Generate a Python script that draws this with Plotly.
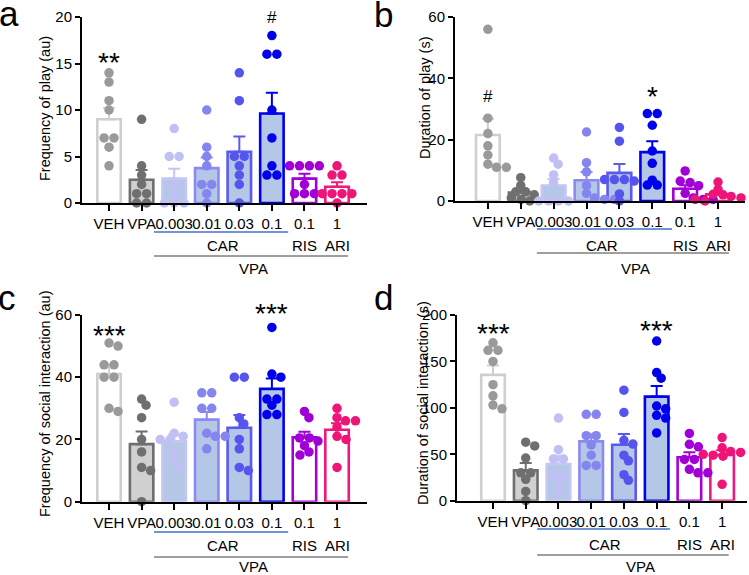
import numpy as np
import plotly.graph_objects as go

# ---------------- data ----------------
groups = ["VEH", "VPA", "0.003", "0.01", "0.03", "0.1", "0.1", "1"]

play_freq = [
    [14, 13, 11, 10, 7, 7, 6, 4],
    [9, 4, 3, 2, 1, 1, 0, 0],
    [8, 5, 5, 2, 1, 0, 0, 0],
    [10, 6, 5, 4, 2, 2, 1, 0],
    [14, 11, 5, 5, 4, 3, 2, 0],
    [18, 16, 16, 10, 7, 4, 3, 3],
    [4, 4, 4, 4, 2, 1, 1, 1],
    [4, 3, 3, 1, 1, 1, 1, 0],
]
play_dur = [
    [56, 27, 22, 18, 15, 12, 11, 11],
    [7.6, 5, 3, 3, 2, 1, 0.5, 0],
    [14, 12, 8.5, 6, 0, 0, 0, 0],
    [22.5, 12.5, 9.5, 5, 2.5, 1, 0.5, 0.5],
    [24, 19.5, 7, 7, 7, 6.5, 2.3, 0],
    [28.5, 28.5, 24.7, 16.3, 12.3, 6.8, 5.2, 5.2],
    [9.8, 6.5, 6, 5, 2.5, 1, 0.5, 0.5],
    [6.2, 3.8, 2.2, 2, 1.5, 1, 0.5, 0],
]
social_freq = [
    [51, 50, 44, 44, 40, 40, 30, 29],
    [33, 31, 27, 20, 16, 11, 10, 0],
    [32, 22, 21, 20, 20, 16, 13, 11],
    [35, 35, 30, 30, 22, 21, 21, 17],
    [40, 40, 27, 25, 20, 17, 11, 10],
    [56, 41, 40, 33, 33, 31, 28, 28],
    [29, 27, 20.5, 20.5, 19.5, 18, 16, 15],
    [30, 27, 26, 26, 24, 21, 20, 11],
]
social_dur = [
    [170, 162, 162, 150, 125, 113, 103, 99],
    [63, 59, 46, 30, 30, 23, 10, 0],
    [89, 55, 45, 45, 28, 26, 19, 9],
    [93, 93, 70, 70, 60, 49, 38, 38],
    [119, 95, 65, 61, 49, 43, 28, 22],
    [172, 138, 132, 102, 99, 92, 89, 73],
    [72.5, 60.7, 58, 44.5, 44.5, 33.8, 30, 30],
    [68, 57, 53, 52, 50, 49, 48, 17.6],
]

titles = ["Frequency of play (au)", "Duration of play (s)",
          "Frequency of social interaction (au)", "Duration of social interaction (s)"]
letters = ["a", "b", "c", "d"]
y_max = [20, 60, 60, 200]
y_dtick = [5, 20, 20, 50]
signif = [
    [("**", 0), ("#", 5)],
    [("#", 0), ("*", 5)],
    [("***", 0), ("***", 5)],
    [("***", 0), ("***", 5)],
]

outline = ["#cfcfcf", "#6f6f6f", "#c6c6f6", "#8a8af2", "#5a5af0", "#0000ee", "#a400d8", "#f0187a"]
fill = ["#ffffff", "#d0d0d0", "#b4c7e7", "#b4c7e7", "#b4c7e7", "#b4c7e7", "#ffffff", "#ffffff"]
dotc = ["#9a9a9a", "#6f6f6f", "#c0c0f4", "#8585ef", "#5555ee", "#0000ee", "#a000d6", "#ee1478"]

# ---------------- layout geometry (pixels) ----------------
W, H = 749, 575
FONT = "Liberation Sans, Arial, sans-serif"
TICKSZ = 15
panel_geo = [
    dict(xl=82, xr=367, yb=203, yt=17, xrange=[-0.83, 7.92], title_xy=(45, 109), letter_xy=(8.5, 14),
         sig_py=[63, 17], car=(223, 245), vpa=(253, 268), blue_py=232, gray_py=256,
         blue_x=[1.38, 5.5], gray_x=[1.38, 7.34], ris_py=245),
    dict(xl=455, xr=745, yb=201, yt=17, xrange=[-1.0, 7.82], title_xy=(425, 98), letter_xy=(383, 15),
         sig_py=[97, 97], car=(602, 245), vpa=(635, 268), blue_py=229, gray_py=253,
         blue_x=[1.49, 5.6], gray_x=[1.49, 7.33], ris_py=245),
    dict(xl=82, xr=367, yb=501.7, yt=315, xrange=[-0.83, 7.92], title_xy=(45, 404), letter_xy=(7, 298),
         sig_py=[335, 313], car=(223, 545), vpa=(253, 566), blue_py=532, gray_py=557,
         blue_x=[1.38, 5.5], gray_x=[1.38, 7.34], ris_py=545),
    dict(xl=457, xr=747, yb=500.7, yt=315, xrange=[-1.1, 7.76], title_xy=(423, 403), letter_xy=(383, 298),
         sig_py=[333, 330], car=(605, 544), vpa=(640, 566), blue_py=529, gray_py=555,
         blue_x=[1.35, 5.41], gray_x=[1.35, 7.2], ris_py=544),
]


def swarm(vals, ppu_y, ppu_x, d=9.0, min_gap=0.72):
    order = sorted(range(len(vals)), key=lambda i: -vals[i])
    rows = []
    for i in order:
        if rows and abs(vals[rows[-1][0]] - vals[i]) * ppu_y < 2.0:
            rows[-1].append(i)
        else:
            rows.append([i])
    placed = []
    xs = [0.0] * len(vals)
    cands = [0.0]
    for k in range(1, 14):
        cands += [k * d / 2, -k * d / 2]
    for row in rows:
        n = len(row)
        ypx = vals[row[0]] * ppu_y
        pos = None
        for s in cands:
            pos = [(j - (n - 1) / 2) * d * 1.1 + s for j in range(n)]
            ok = all(np.hypot(px - qx, ypx - qy) >= min_gap * d for px in pos for (qx, qy) in placed)
            if ok:
                break
        for j, i in enumerate(row):
            xs[i] = pos[j] / ppu_x
            placed.append((pos[j], vals[i] * ppu_y))
    return xs


datasets = [play_freq, play_dur, social_freq, social_dur]

fig = go.Figure()
annotations = []
shapes = []
layout_axes = {}

for p, (data, geo) in enumerate(zip(datasets, panel_geo)):
    sfx = "" if p == 0 else str(p + 1)
    xa, ya = "x" + sfx, "y" + sfx
    ppu_x = (geo["xr"] - geo["xl"]) / (geo["xrange"][1] - geo["xrange"][0])
    ppu_y = (geo["yb"] - geo["yt"]) / y_max[p]
    for g, vals in enumerate(data):
        v = np.array(vals, dtype=float)
        mean = v.mean()
        sem = v.std(ddof=1) / np.sqrt(len(v))
        fig.add_trace(go.Bar(
            x=[g], y=[mean], width=0.72, xaxis=xa, yaxis=ya, showlegend=False,
            marker=dict(color=fill[g], line=dict(color=outline[g], width=2.6)),
            error_y=dict(type="data", array=[sem], arrayminus=[0], symmetric=False,
                         color=outline[g], thickness=2, width=6),
        ))
    for g, vals in enumerate(data):
        offs = swarm(vals, ppu_y, ppu_x)
        fig.add_trace(go.Scatter(
            x=[g + o for o in offs], y=vals, mode="markers", xaxis=xa, yaxis=ya,
            showlegend=False, cliponaxis=False,
            marker=dict(size=9.5, color=dotc[g], line=dict(width=0)),
        ))

    layout_axes["xaxis" + sfx] = dict(
        domain=[geo["xl"] / W, geo["xr"] / W], anchor=ya, range=geo["xrange"], automargin=False,
        tickmode="array", tickvals=list(range(8)), ticktext=groups, tickangle=0,
        ticks="outside", ticklen=6, tickwidth=1.5, tickcolor="black",
        showline=True, linewidth=2, linecolor="black", showgrid=False, zeroline=False,
        tickfont=dict(size=TICKSZ, color="black", family=FONT),
    )
    layout_axes["yaxis" + sfx] = dict(
        domain=[(H - geo["yb"]) / H, (H - geo["yt"]) / H], anchor=xa, range=[0, y_max[p]],
        automargin=False, tickmode="linear", tick0=0, dtick=y_dtick[p],
        ticks="outside", ticklen=5, tickwidth=2, tickcolor="black",
        showline=True, linewidth=2, linecolor="black", showgrid=False, zeroline=False,
        tickfont=dict(size=TICKSZ, color="black", family=FONT),
    )

    tx, ty = geo["title_xy"]
    annotations.append(dict(x=tx / W, y=(H - ty) / H, xref="paper", yref="paper", text=titles[p],
                            textangle=-90, showarrow=False, xanchor="center", yanchor="middle",
                            font=dict(size=14.5, color="black", family=FONT)))
    lx, ly = geo["letter_xy"]
    annotations.append(dict(x=lx / W, y=(H - ly) / H, xref="paper", yref="paper", text=letters[p],
                            showarrow=False, xanchor="center", yanchor="middle",
                            font=dict(size=35, color="black", family=FONT)))
    for (txt, g), py in zip(signif[p], geo["sig_py"]):
        big = "*" in txt
        annotations.append(dict(x=g, y=(H - py) / H, xref=xa, yref="paper", text=txt,
                                showarrow=False, xanchor="center", yanchor="middle",
                                font=dict(size=28 if big else 17, color="black", family=FONT)))
    cx, cy = geo["car"]
    annotations.append(dict(x=cx / W, y=(H - cy) / H, xref="paper", yref="paper", text="CAR",
                            showarrow=False, xanchor="center", yanchor="middle",
                            font=dict(size=TICKSZ, color="black", family=FONT)))
    vx, vy = geo["vpa"]
    annotations.append(dict(x=vx / W, y=(H - vy) / H, xref="paper", yref="paper", text="VPA",
                            showarrow=False, xanchor="center", yanchor="middle",
                            font=dict(size=TICKSZ, color="black", family=FONT)))
    for g, txt in [(6, "RIS"), (7, "ARI")]:
        annotations.append(dict(x=g, y=(H - geo["ris_py"]) / H, xref=xa, yref="paper", text=txt,
                                showarrow=False, xanchor="center", yanchor="middle",
                                font=dict(size=TICKSZ, color="black", family=FONT)))
    shapes.append(dict(type="line", xref=xa, yref="paper",
                       x0=geo["blue_x"][0], x1=geo["blue_x"][1],
                       y0=(H - geo["blue_py"]) / H, y1=(H - geo["blue_py"]) / H,
                       line=dict(color="#4472c4", width=1.6)))
    shapes.append(dict(type="line", xref=xa, yref="paper",
                       x0=geo["gray_x"][0], x1=geo["gray_x"][1],
                       y0=(H - geo["gray_py"]) / H, y1=(H - geo["gray_py"]) / H,
                       line=dict(color="#7f7f7f", width=1.6)))

fig.update_layout(
    width=W, height=H, margin=dict(l=0, r=0, t=0, b=0, autoexpand=False),
    paper_bgcolor="white", plot_bgcolor="white", barmode="overlay",
    font=dict(family=FONT, color="black"),
    annotations=annotations, shapes=shapes, **layout_axes,
)

fig.write_html("out.html", config={"displayModeBar": False},
               post_script="document.body.style.margin='0px';document.body.style.padding='0px';")
